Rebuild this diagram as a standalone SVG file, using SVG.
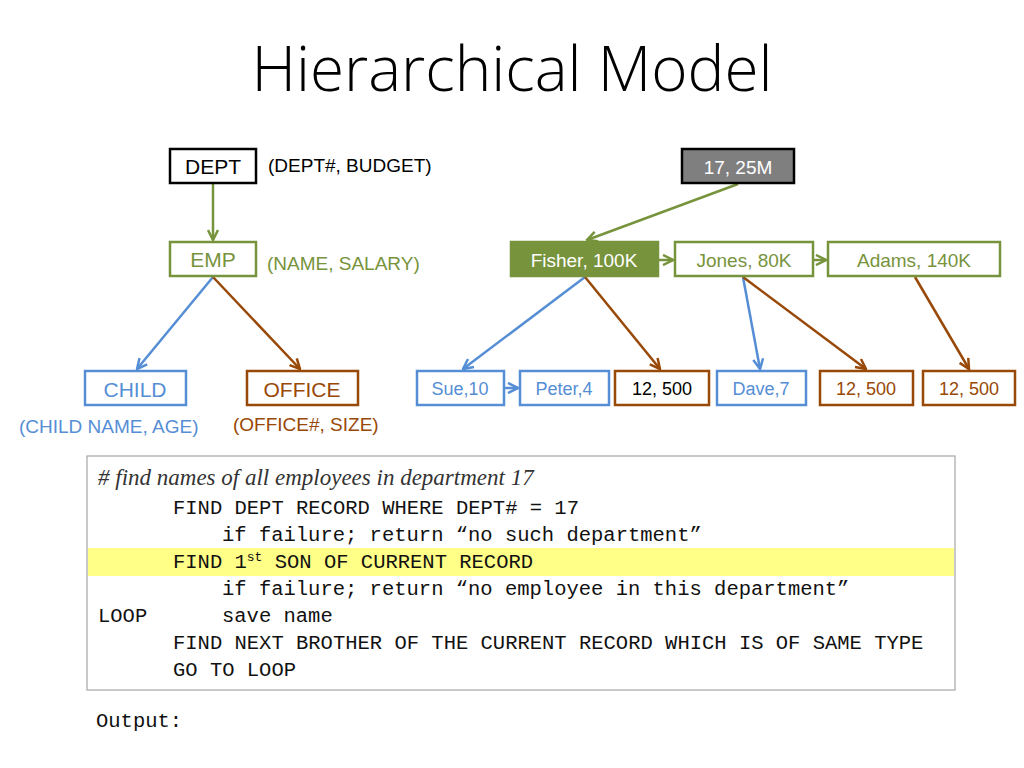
<svg xmlns="http://www.w3.org/2000/svg" width="1024" height="768" viewBox="0 0 1024 768">
<defs>
<marker id="ag" viewBox="0 0 10 10" refX="9" refY="5" markerWidth="5" markerHeight="5" orient="auto" markerUnits="strokeWidth"><path d="M1,1 L9,5 L1,9" fill="none" stroke="#77933C" stroke-width="2"/></marker>
<marker id="ab" viewBox="0 0 10 10" refX="9" refY="5" markerWidth="5" markerHeight="5" orient="auto" markerUnits="strokeWidth"><path d="M1,1 L9,5 L1,9" fill="none" stroke="#558ED5" stroke-width="2"/></marker>
<marker id="ar" viewBox="0 0 10 10" refX="9" refY="5" markerWidth="5" markerHeight="5" orient="auto" markerUnits="strokeWidth"><path d="M1,1 L9,5 L1,9" fill="none" stroke="#984807" stroke-width="2"/></marker>
</defs>
<style>
text{font-family:"Liberation Sans",Arial,sans-serif}
.t{font-size:21px;text-anchor:middle}
.g{fill:#77933C}.b{fill:#558ED5}.r{fill:#984807}
.box{fill:#fff;stroke-width:2.5}
.mono{font-family:"Liberation Mono","DejaVu Sans Mono",monospace;font-size:20.5px;fill:#111}
.cg{stroke:#77933C;stroke-width:2.5;fill:none;marker-end:url(#ag)}
.cb{stroke:#558ED5;stroke-width:2.5;fill:none;marker-end:url(#ab)}
.cr{stroke:#984807;stroke-width:2.5;fill:none;marker-end:url(#ar)}
</style>
<rect width="1024" height="768" fill="#fff"/>
<text x="512" y="91" style="font-size:62px;text-anchor:middle;font-family:'Open Sans','Liberation Sans',sans-serif;font-weight:300" fill="#000">Hierarchical Model</text>

<g id="connectors">
<line class="cg" x1="213" y1="183" x2="213" y2="240"/>
<line class="cb" x1="213" y1="277" x2="137" y2="369"/>
<line class="cr" x1="213" y1="277" x2="300" y2="369"/>
<line class="cg" x1="738" y1="184" x2="587" y2="240"/>
<line class="cg" x1="659" y1="260" x2="673" y2="260"/>
<line class="cg" x1="813" y1="260" x2="826" y2="260"/>
<line class="cb" x1="585" y1="277" x2="463" y2="369"/>
<line class="cr" x1="585" y1="277" x2="660" y2="369"/>
<line class="cb" x1="743" y1="277" x2="760" y2="369"/>
<line class="cr" x1="743" y1="277" x2="866" y2="369"/>
<line class="cr" x1="915" y1="277" x2="969" y2="369"/>
<line class="cb" x1="505" y1="388" x2="518" y2="388"/>
</g>

<g id="dept"><rect class="box" x="170" y="149" width="86" height="34" stroke="#000"/><text class="t" x="213" y="174" fill="#000">DEPT</text></g>
<text x="268" y="172" style="font-size:19px" fill="#000">(DEPT#, BUDGET)</text>
<g id="emp"><rect class="box" x="170" y="242" width="86" height="34" stroke="#77933C"/><text class="t g" x="213" y="267">EMP</text></g>
<text x="267" y="270" style="font-size:19px" class="g">(NAME, SALARY)</text>
<g id="child"><rect class="box" x="85" y="371" width="101" height="34" stroke="#558ED5"/><text class="t b" x="135" y="397">CHILD</text></g>
<text x="19" y="433" style="font-size:19px" class="b">(CHILD NAME, AGE)</text>
<g id="office"><rect class="box" x="247" y="371" width="111" height="34" stroke="#984807"/><text class="t r" x="302" y="397">OFFICE</text></g>
<text x="233" y="431" style="font-size:19px" class="r">(OFFICE#, SIZE)</text>

<g id="d17"><rect x="682" y="149" width="112" height="34" fill="#7F7F7F" stroke="#000" stroke-width="2.5"/><text class="t" x="738" y="174" fill="#fff" style="font-size:19px">17, 25M</text></g>
<g id="fisher"><rect x="511" y="242" width="147" height="34" fill="#77933C" stroke="#77933C" stroke-width="2.5"/><text class="t" x="584" y="267" fill="#fff" style="font-size:19px">Fisher, 100K</text></g>
<g id="jones"><rect class="box" x="675" y="242" width="138" height="34" stroke="#77933C"/><text class="t g" x="744" y="267" style="font-size:19px">Jones, 80K</text></g>
<g id="adams"><rect class="box" x="828" y="242" width="172" height="34" stroke="#77933C"/><text class="t g" x="914" y="267" style="font-size:19px">Adams, 140K</text></g>

<g id="sue"><rect class="box" x="417" y="371" width="87" height="34" stroke="#558ED5"/><text class="t b" x="460" y="395" style="font-size:18px">Sue,10</text></g>
<g id="peter"><rect class="box" x="520" y="371" width="89" height="34" stroke="#558ED5"/><text class="t b" x="564" y="395" style="font-size:18px">Peter,4</text></g>
<g id="o1"><rect class="box" x="615" y="371" width="94" height="34" stroke="#984807"/><text class="t" x="662" y="395" fill="#000" style="font-size:18px">12, 500</text></g>
<g id="dave"><rect class="box" x="717" y="371" width="89" height="34" stroke="#558ED5"/><text class="t b" x="761" y="395" style="font-size:18px">Dave,7</text></g>
<g id="o2"><rect class="box" x="820" y="371" width="93" height="34" stroke="#984807"/><text class="t r" x="866" y="395" style="font-size:18px">12, 500</text></g>
<g id="o3"><rect class="box" x="923" y="371" width="92" height="34" stroke="#984807"/><text class="t r" x="969" y="395" style="font-size:18px">12, 500</text></g>

<g id="code">
<rect x="87" y="456" width="868" height="234" fill="#fff" stroke="#A6A6A6" stroke-width="1.2"/>
<rect x="88" y="548" width="866" height="28" fill="#FFFF88"/>
<text x="98" y="485" style="font-family:'Liberation Serif',serif;font-style:italic;font-size:23px" fill="#333"># find names of all employees in department 17</text>
<text class="mono" x="173" y="514">FIND DEPT RECORD WHERE DEPT# = 17</text>
<text class="mono" x="222" y="541">if failure; return “no such department”</text>
<text class="mono" x="173" y="568">FIND 1<tspan dy="-7" style="font-size:13px">st</tspan><tspan dy="7"> SON OF CURRENT RECORD</tspan></text>
<text class="mono" x="222" y="595">if failure; return “no employee in this department”</text>
<text class="mono" x="98" y="622">LOOP</text>
<text class="mono" x="222" y="622">save name</text>
<text class="mono" x="173" y="649">FIND NEXT BROTHER OF THE CURRENT RECORD WHICH IS OF SAME TYPE</text>
<text class="mono" x="173" y="676">GO TO LOOP</text>
</g>
<text class="mono" x="96" y="727">Output:</text>
</svg>
